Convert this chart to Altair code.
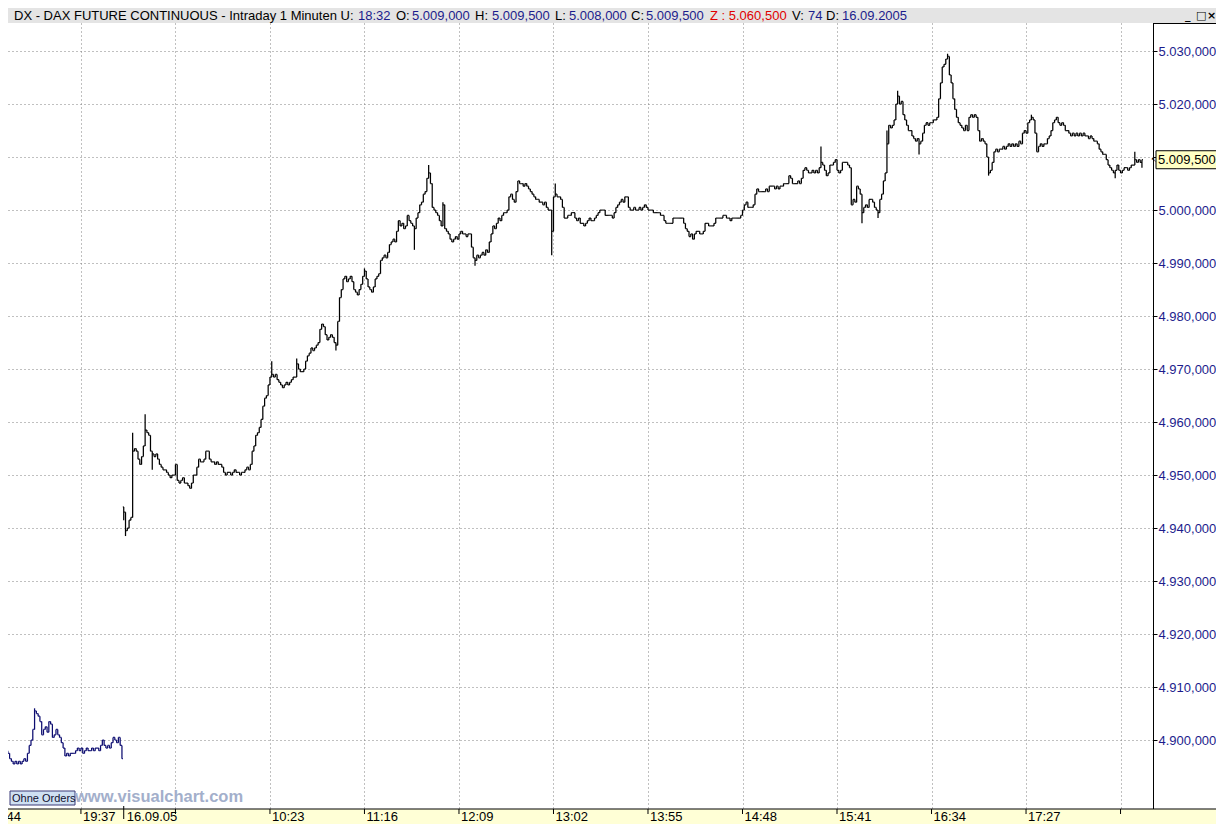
import altair as alt
import pandas as pd

# ---------------- data (prices in index points, 1-minute bars) ----------------
# previous session 15.09.05, bar index 12 .. 76
prev_first_idx = 12
prev_first_open = 4898.0
prev_close = [
    4897.5, 4896.5, 4896.0, 4895.5, 4896.0, 4895.5, 4896.0, 4895.5, 4896.0, 4896.5,
    4896.0, 4897.5, 4899.0, 4900.0, 4902.0, 4905.5, 4905.0, 4904.5, 4903.5, 4901.0,
    4902.0, 4902.5, 4901.5, 4903.5, 4903.0, 4900.5, 4901.0, 4902.0, 4901.0, 4900.5,
    4899.5, 4898.5, 4897.0, 4897.5, 4897.0, 4897.5, 4897.5, 4897.5, 4898.0, 4898.5,
    4898.0, 4898.5, 4897.5, 4898.0, 4898.5, 4898.0, 4898.0, 4898.5, 4898.0, 4898.5,
    4898.5, 4898.0, 4899.0, 4900.0, 4899.0, 4898.5, 4899.0, 4898.5, 4899.5, 4900.5,
    4900.0, 4899.5, 4900.5, 4899.0, 4896.5,
]

# session 16.09.05, bar index 77 (09:01) .. 648 (18:32)
today_first_idx = 77
today_first_open = 4944.0
close_0901 = [
    4943.0, 4939.5, 4940.0, 4941.5, 4942.0, 4954.5, 4955.0, 4954.5, 4953.0, 4952.0,
    4953.5, 4955.5, 4958.5, 4958.0, 4957.5, 4954.5, 4954.0, 4953.5, 4954.0, 4953.0,
    4952.0, 4951.5, 4951.0, 4951.0, 4950.5, 4950.0, 4949.5, 4950.0, 4950.0, 4952.0,
    4949.0, 4948.5, 4949.0, 4949.5, 4948.5, 4948.5, 4948.0, 4947.5, 4948.5, 4950.0,
    4950.0, 4951.5, 4953.0, 4952.5, 4952.5, 4953.0, 4954.5, 4954.5, 4953.0, 4952.5,
    4952.5, 4952.0, 4952.5, 4952.0, 4952.0, 4951.5, 4950.5, 4950.0, 4950.5, 4950.5,
    4950.0, 4950.5, 4951.0, 4950.5, 4950.5, 4950.0, 4950.5, 4950.5, 4951.0, 4951.5,
    4951.0, 4952.0, 4954.5, 4955.5, 4957.5, 4958.0, 4959.0, 4960.5, 4963.0, 4964.5,
    4965.0, 4967.0, 4968.5, 4969.0, 4968.5, 4969.0, 4968.0, 4967.5, 4967.0, 4966.5,
    4967.0, 4967.5, 4967.0, 4967.5, 4968.0, 4968.5, 4968.5, 4971.0, 4970.0, 4969.5,
]
close_1041 = [
    4969.5, 4970.0, 4971.5, 4972.5, 4973.0, 4974.0, 4973.5, 4974.0, 4974.5, 4975.0,
    4977.5, 4978.5, 4978.0, 4976.5, 4975.5, 4976.0, 4976.5, 4976.0, 4975.0, 4974.5,
    4979.0, 4983.5, 4985.0, 4987.0, 4987.5, 4986.5, 4987.0, 4987.5, 4986.5, 4985.0,
    4984.5, 4984.0, 4985.0, 4986.0, 4987.5, 4988.5, 4987.0, 4985.5, 4985.0, 4984.5,
    4985.5, 4987.0, 4987.5, 4988.0, 4990.5, 4991.0, 4991.5, 4991.0, 4992.0, 4993.5,
    4994.0, 4994.5, 4994.0, 4996.0, 4998.0, 4997.0, 4997.5, 4996.5, 4997.0, 4999.0,
    4998.0, 4997.5, 4997.0, 4996.5, 4998.5, 4999.5, 5001.0, 5001.5, 5003.0, 5003.5,
    5006.0, 5007.0, 5005.0, 5000.5, 5000.0, 4999.5, 4999.0, 4998.0, 4997.0, 5001.0,
    4996.5, 4996.0, 4995.5, 4994.5, 4994.0, 4994.5, 4995.0, 4994.5, 4995.5, 4996.0,
    4995.5, 4995.5, 4995.0, 4995.5, 4995.5, 4993.0, 4991.0, 4990.5, 4991.5, 4991.0,
]
close_1221 = [
    4991.5, 4992.0, 4991.5, 4992.5, 4992.0, 4994.0, 4995.5, 4997.0, 4996.5, 4997.5,
    4998.5, 4998.0, 4999.0, 4999.5, 4999.5, 5000.0, 5002.5, 5003.0, 5002.0, 5001.5,
    5003.5, 5005.5, 5005.0, 5005.0, 5004.5, 5005.0, 5004.5, 5004.0, 5003.5, 5003.0,
    5002.5, 5002.0, 5002.0, 5001.5, 5001.5, 5001.0, 5001.5, 5000.5, 5000.0, 5000.0,
    4996.0, 5002.5, 5003.0, 5002.5, 5002.5, 5002.0, 5000.5, 4998.5, 4998.5, 4999.0,
    4999.0, 4999.5, 4999.5, 4998.5, 4998.0, 4998.5, 4997.5, 4997.5, 4997.0, 4997.5,
    4998.0, 4998.5, 4998.0, 4998.0, 4998.5, 4999.0, 4999.5, 5000.0, 5000.0, 5000.0,
    4999.0, 4999.0, 4999.0, 4999.0, 4998.5, 4999.5, 5000.5, 5001.0, 5001.5, 5002.0,
    5001.5, 5002.5, 5002.5, 5000.5, 5000.0, 5000.0, 5000.5, 5000.0, 5000.0, 5000.5,
    5000.0, 5000.5, 5001.0, 5000.5, 5000.0, 5000.0, 5000.0, 4999.5, 4999.5, 4999.5,
]
close_1401 = [
    4999.5, 4999.0, 4999.0, 4998.0, 4997.5, 4997.5, 4997.5, 4997.5, 4998.5, 4998.5,
    4998.5, 4998.5, 4998.5, 4998.5, 4997.5, 4996.5, 4996.0, 4995.0, 4995.5, 4994.5,
    4995.5, 4996.0, 4996.0, 4995.5, 4995.5, 4996.0, 4997.5, 4997.5, 4997.0, 4997.0,
    4997.0, 4997.5, 4998.5, 4998.5, 4998.5, 4998.5, 4999.0, 4999.0, 4998.5, 4998.5,
    4998.0, 4998.5, 4998.5, 4998.5, 4998.5, 4998.5, 4999.0, 5000.0, 5001.0, 5001.5,
    5000.5, 5000.5, 5000.5, 5001.0, 5003.0, 5004.0, 5003.5, 5003.5, 5003.5, 5003.5,
    5004.0, 5003.5, 5004.5, 5004.5, 5004.5, 5004.0, 5004.5, 5004.0, 5004.5, 5004.5,
    5005.0, 5005.0, 5005.0, 5006.5, 5006.0, 5005.0, 5005.0, 5005.0, 5005.5, 5005.0,
    5006.0, 5007.5, 5008.0, 5007.5, 5007.0, 5007.0, 5007.5, 5007.0, 5007.5, 5007.0,
    5008.0, 5009.0, 5008.5, 5007.5, 5006.5, 5007.0, 5008.5, 5008.5, 5009.0, 5009.5,
]
close_1541 = [
    5007.5, 5007.0, 5007.5, 5009.0, 5009.0, 5009.0, 5008.5, 5008.0, 5001.0, 5002.0,
    5001.5, 5004.5, 5004.0, 5003.0, 4999.5, 5000.5, 5001.0, 5000.5, 5002.0, 5002.0,
    5001.5, 5000.5, 5000.0, 4999.5, 5002.0, 5003.0, 5005.5, 5007.0, 5012.5, 5016.0,
    5015.5, 5016.0, 5017.0, 5020.0, 5021.5, 5020.0, 5020.5, 5018.0, 5017.0, 5016.0,
    5015.0, 5015.0, 5014.0, 5013.5, 5013.0, 5013.5, 5012.5, 5013.0, 5014.5, 5016.0,
    5016.5, 5016.0, 5016.5, 5016.5, 5017.0, 5017.0, 5017.5, 5021.0, 5024.0, 5027.0,
    5027.5, 5028.5, 5029.0, 5025.5, 5024.0, 5021.0, 5019.0, 5017.5, 5016.5, 5016.0,
    5015.5, 5015.0, 5016.0, 5015.0, 5017.5, 5018.0, 5017.5, 5018.0, 5017.5, 5015.0,
    5013.0, 5013.5, 5013.0, 5012.5, 5010.0, 5007.0, 5007.5, 5009.0, 5011.0, 5011.5,
    5011.0, 5011.5, 5011.5, 5012.0, 5011.5, 5012.0, 5012.5, 5012.0, 5012.5, 5012.0,
]
close_1721 = [
    5012.5, 5012.0, 5013.0, 5012.5, 5014.5, 5015.0, 5014.5, 5016.5, 5017.0, 5017.5,
    5017.0, 5014.5, 5011.0, 5012.0, 5012.5, 5012.0, 5012.5, 5012.5, 5013.5, 5014.0,
    5015.0, 5016.5, 5017.0, 5017.5, 5016.5, 5016.0, 5016.5, 5016.0, 5015.0, 5015.0,
    5014.5, 5014.0, 5014.5, 5014.0, 5014.5, 5014.0, 5014.5, 5014.0, 5014.5, 5014.0,
    5014.0, 5013.5, 5014.0, 5013.5, 5013.0, 5013.0, 5012.5, 5011.5, 5011.0, 5010.5,
    5010.5, 5009.5, 5008.5, 5008.0, 5007.5, 5007.0, 5007.5, 5008.5, 5007.5, 5007.0,
    5007.5, 5008.0, 5008.0, 5007.5, 5008.0, 5008.5, 5008.5, 5009.5, 5009.0, 5009.5,
    5009.0, 5009.5,
]

# wicks reaching beyond open/close
high_idx = [27, 82, 89, 160, 174, 212, 248, 256, 319, 468, 505, 511, 539, 586, 644]
high_val = [4906.0, 4958.0, 4961.5, 4971.5, 4972.0, 4989.0, 5008.5, 5001.5, 5005.0,
            5012.0, 5015.0, 5022.5, 5029.5, 5018.0, 5011.0]
low_idx = [77, 78, 93, 196, 240, 274, 317, 491, 500, 523, 562, 633, 648]
low_val = [4941.5, 4938.5, 4951.0, 4973.5, 4992.5, 4989.5, 4991.5, 4997.5, 4998.5,
           5010.5, 5006.5, 5006.0, 5008.0]

grid_idx = [53, 106, 159, 212, 265, 318, 371, 424, 477, 530, 583, 636]
time_idx = [0, 53, 159, 212, 265, 318, 371, 424, 477, 530, 583]
time_lbl = ["18:44", "19:37", "10:23", "11:16", "12:09", "13:02", "13:55",
            "14:48", "15:41", "16:34", "17:27"]
day_idx = [77]
day_lbl = ["16.09.05"]
y_ticks = [4900, 4910, 4920, 4930, 4940, 4950, 4960, 4970, 4980, 4990,
           5000, 5010, 5020, 5030]

header_parts = ["DX - DAX FUTURE CONTINUOUS - Intraday 1 Minuten U:", "18:32",
                "O:", "5.009,000", "H:", "5.009,500", "L:", "5.008,000",
                "C:", "5.009,500", "Z : 5.060,500", "V:", "74", "D:", "16.09.2005"]
header_kind = ["k", "b", "k", "b", "k", "b", "k", "b", "k", "b", "r", "k", "b", "k", "b"]

# ---------------- build table ----------------
rows = []


def add_session(first_idx, first_open, closes, session):
    prev = first_open
    for k, c in enumerate(closes):
        rows.append(dict(i=first_idx + k, o=prev, c=c, h=max(prev, c), l=min(prev, c), s=session))
        prev = c


add_session(prev_first_idx, prev_first_open, prev_close, "prev")
add_session(today_first_idx, today_first_open,
            close_0901 + close_1041 + close_1221 + close_1401 + close_1541 + close_1721, "today")
df = pd.DataFrame(rows).set_index("i", drop=False)
for i, v in zip(high_idx, high_val):
    df.loc[i, "h"] = max(df.loc[i, "h"], v)
for i, v in zip(low_idx, low_val):
    df.loc[i, "l"] = min(df.loc[i, "l"], v)
df = df.reset_index(drop=True)


def de_fmt(v):
    return f"{v:,.3f}".replace(",", "_").replace(".", ",").replace("_", ".")


last = df.iloc[-1]
last_df = pd.DataFrame({"c": [last["c"]], "lbl": [de_fmt(last["c"])]})
ticks_df = pd.DataFrame({"i": time_idx, "lbl": time_lbl})
grid_df = pd.DataFrame({"i": grid_idx})
day_df = pd.DataFrame({"i": day_idx, "lbl": day_lbl})
one = pd.DataFrame({"k": [0]})

# ---------------- layout / style ----------------
W, H = 1145, 786
PAD_L, PAD_T, PAD_R, PAD_B = 0, 15, 63, 15
FULL_W = W + PAD_R
FONT = "Liberation Sans"
NAVY = "#1c1c8c"
PREV_COL = "#0c0c70"
GRID = "#808080"
COLORS = {"k": "#000000", "b": NAVY, "r": "#e00000"}
HEADER_X = [6, 350, 388, 404, 467, 484, 547, 561, 623, 638, 702, 784, 800, 818, 834]
HEADER_Y = -13.5
BAR_W = 1.25

x_scale = alt.Scale(domain=[12.1, 654.2], nice=False, zero=False)
y_scale = alt.Scale(domain=[4887.0, 5035.3], nice=False, zero=False)

x_axis = alt.Axis(values=grid_idx, labels=False, ticks=False, domain=False, grid=True,
                  gridDash=[1, 3], gridColor=GRID, gridWidth=1, title=None)
y_axis = alt.Axis(orient="right", values=y_ticks, grid=True, gridDash=[1, 3],
                  gridColor=GRID, gridWidth=1, title=None, tickSize=4, tickColor="#000000",
                  domain=True, domainColor="#000000", domainWidth=1,
                  labelColor=NAVY, labelFont=FONT, labelFontSize=13, labelPadding=1,
                  labelExpr="replace(replace(replace(format(datum.value, ',.3f'), ',', '_'), '.', ','), '_', '.')")

X = alt.X("i:Q", scale=x_scale, axis=x_axis)
color = alt.Color("s:N", scale=alt.Scale(domain=["prev", "today"], range=[PREV_COL, "#000000"]),
                  legend=None)

base = alt.Chart(df)
hl = base.mark_rule(strokeWidth=BAR_W).encode(
    x=X, y=alt.Y("l:Q", scale=y_scale, axis=y_axis), y2="h:Q", color=color)
op = base.transform_calculate(il="datum.i - 0.5").mark_rule(strokeWidth=BAR_W).encode(
    x=alt.X("il:Q", scale=x_scale, axis=x_axis), x2="i:Q",
    y=alt.Y("o:Q", scale=y_scale, axis=y_axis), color=color)
cl = base.transform_calculate(ir="datum.i + 0.5").mark_rule(strokeWidth=BAR_W).encode(
    x=X, x2="ir:Q", y=alt.Y("c:Q", scale=y_scale, axis=y_axis), color=color)

# decorations
header_bg = alt.Chart(one).mark_rect(color="#e4e4e4").encode(
    x=alt.value(0), x2=alt.value(FULL_W), y=alt.value(-PAD_T), y2=alt.value(0))
band = alt.Chart(one).mark_rect(color="#ffffd6").encode(
    x=alt.value(0), x2=alt.value(FULL_W), y=alt.value(H), y2=alt.value(H + PAD_B))
bottom_line = alt.Chart(one).mark_rule(color="#000000", strokeWidth=1).encode(
    x=alt.value(0), x2=alt.value(FULL_W), y=alt.value(H))
panel_top = alt.Chart(one).mark_rule(color="#000000", strokeWidth=1).encode(
    x=alt.value(W), x2=alt.value(FULL_W), y=alt.value(0.5))

xticks = alt.Chart(grid_df).mark_rule(color="#000000", strokeWidth=1).encode(
    x=X, y=alt.value(H), y2=alt.value(H + 5))
day_tick = alt.Chart(day_df).mark_rule(color="#000000", strokeWidth=1).encode(
    x=X, y=alt.value(H - 3), y2=alt.value(H + 10))
xlabels = alt.Chart(ticks_df).mark_text(align="left", baseline="top", dx=2, font=FONT,
                                        fontSize=13, color="#000000").encode(
    x=X, y=alt.value(H + 2), text="lbl:N")
day_label = alt.Chart(day_df).mark_text(align="left", baseline="top", dx=3, font=FONT,
                                        fontSize=13, color="#000000").encode(
    x=X, y=alt.value(H + 2), text="lbl:N")

price_box = alt.Chart(last_df).mark_rect(fill="#ffffc4", stroke="#000000", strokeWidth=1,
                                         yOffset=-9, y2Offset=9).encode(
    x=alt.value(W + 3), x2=alt.value(FULL_W + 10),
    y=alt.Y("c:Q", scale=y_scale, axis=y_axis), y2="c:Q")
price_text = alt.Chart(last_df).mark_text(align="left", baseline="middle", font=FONT,
                                          fontSize=13, color="#000000").encode(
    x=alt.value(W + 5), y=alt.Y("c:Q", scale=y_scale, axis=y_axis), text="lbl:N")
price_arrow = alt.Chart(last_df).mark_text(align="center", baseline="middle", font="DejaVu Sans",
                                           fontSize=7, color="#000000", text="\u2196").encode(
    x=alt.value(W + 1), y=alt.Y("c:Q", scale=y_scale, axis=y_axis))

header_layers = []
for txt, kind, hx in zip(header_parts, header_kind, HEADER_X):
    header_layers.append(
        alt.Chart(one).mark_text(text=txt, align="left", baseline="top", font=FONT,
                                 fontSize=13, color=COLORS[kind]).encode(
            x=alt.value(hx), y=alt.value(HEADER_Y)))
for glyph, gx in zip(["_", "\u25a1", "\u00d7"], [1177, 1188, 1199]):
    header_layers.append(
        alt.Chart(one).mark_text(text=glyph, align="left", baseline="top",
                                 font="DejaVu Sans", fontSize=11, fontWeight="bold",
                                 color="#000000").encode(x=alt.value(gx), y=alt.value(HEADER_Y)))

orders_box = alt.Chart(one).mark_rect(fill="#cfe0f2", stroke="#3a3a78", strokeWidth=1).encode(
    x=alt.value(2), x2=alt.value(67), y=alt.value(768), y2=alt.value(782))
orders_text = alt.Chart(one).mark_text(text="Ohne Orders", align="left", baseline="middle",
                                       font=FONT, fontSize=11, color="#101030").encode(
    x=alt.value(4), y=alt.value(775.5))
watermark = alt.Chart(one).mark_text(text="www.visualchart.com", align="left", baseline="middle",
                                     font=FONT, fontSize=16.5, fontWeight="bold",
                                     color="#a3afcb").encode(
    x=alt.value(67), y=alt.value(774))

chart = alt.layer(
    hl, op, cl,
    header_bg, band, bottom_line, panel_top, xticks, day_tick, xlabels, day_label,
    price_box, price_text, price_arrow,
    *header_layers,
    orders_box, orders_text, watermark,
).properties(
    width=W, height=H,
    autosize=alt.AutoSizeParams(type="none"),
    padding={"left": PAD_L, "top": PAD_T, "right": PAD_R, "bottom": PAD_B},
    background="#ffffff",
).configure_view(strokeWidth=0)

chart.save("out.html", embed_options={"renderer": "svg", "actions": False})
